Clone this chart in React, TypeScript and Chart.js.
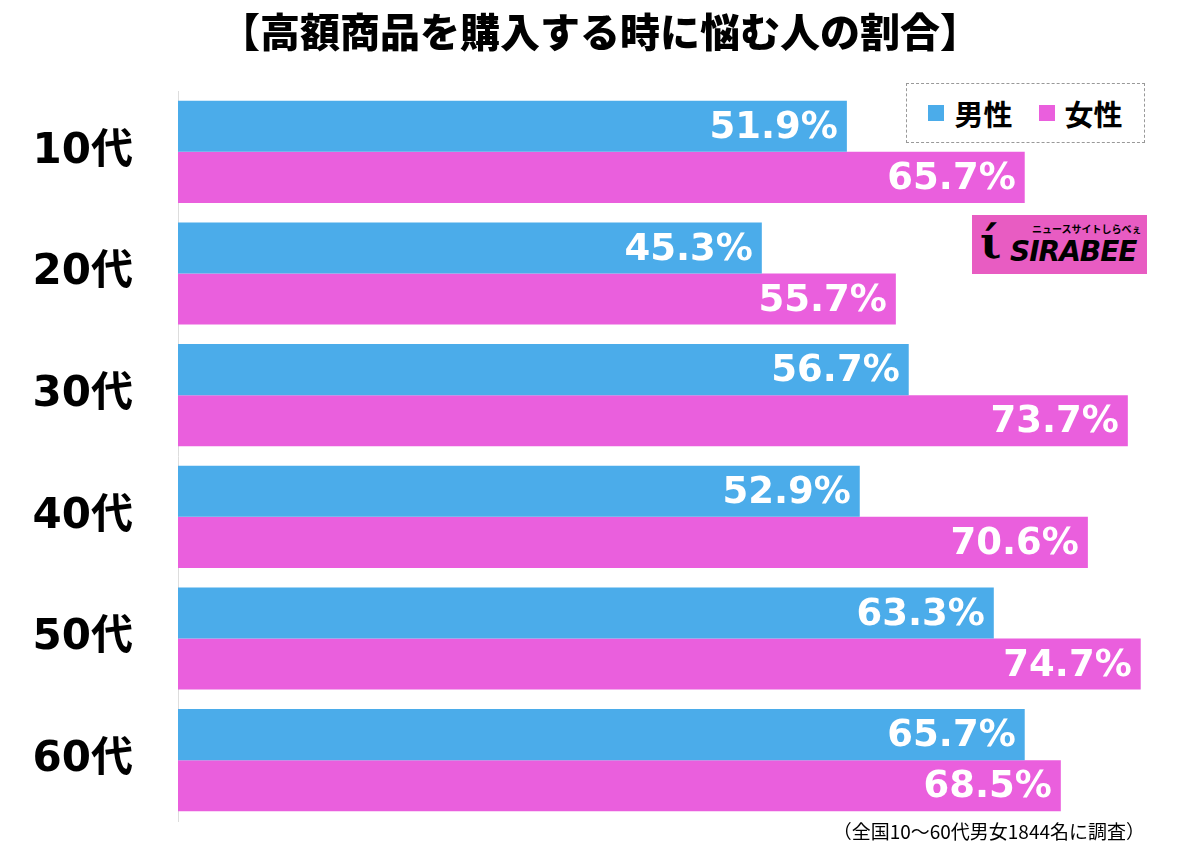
import React, { useEffect, useRef } from "react";
import { Chart, registerables } from "chart.js";

Chart.register(...registerables);

const categories = ["10代", "20代", "30代", "40代", "50代", "60代"];
const maleValues = [51.9, 45.3, 56.7, 52.9, 63.3, 65.7];
const femaleValues = [65.7, 55.7, 73.7, 70.6, 74.7, 68.5];
const seriesNames = ["男性", "女性"];
const titleText = "【高額商品を購入する時に悩む人の割合】";
const footnoteText = "（全国10〜60代男女1844名に調査）";

const BLUE = "#4BACEA";
const PINK = "#EA5FDD";

const valueLabels = {
  id: "valueLabels",
  afterDatasetsDraw(chart: any) {
    const ctx = chart.ctx;
    ctx.save();
    ctx.font = 'bold 37px "DejaVu Sans", sans-serif';
    ctx.fillStyle = "#ffffff";
    ctx.textAlign = "right";
    ctx.textBaseline = "middle";
    chart.data.datasets.forEach((ds: any, i: number) => {
      const meta = chart.getDatasetMeta(i);
      meta.data.forEach((bar: any, j: number) => {
        ctx.fillText(Number(ds.data[j]).toFixed(1) + "%", bar.x - 9, bar.y + 2);
      });
    });
    ctx.restore();
  },
};

export default function App() {
  const ref = useRef<HTMLCanvasElement | null>(null);

  useEffect(() => {
    if (!ref.current) return;
    const chart = new Chart(ref.current, {
      type: "bar",
      data: {
        labels: categories,
        datasets: [
          { label: seriesNames[0], data: maleValues, backgroundColor: BLUE, borderWidth: 0 },
          { label: seriesNames[1], data: femaleValues, backgroundColor: PINK, borderWidth: 0 },
        ],
      },
      options: {
        indexAxis: "y",
        responsive: false,
        animation: false,
        devicePixelRatio: 1,
        layout: { padding: { left: 0, right: 0, top: 0, bottom: 26 } },
        datasets: {
          bar: { categoryPercentage: 0.84, barPercentage: 1.0 },
        },
        scales: {
          x: {
            display: false,
            min: 0,
            max: 79.3,
          },
          y: {
            afterFit: (scale: any) => {
              scale.width = 178;
              scale.paddingTop = 0;
              scale.paddingBottom = 0;
            },
            grid: { display: false, drawTicks: false },
            border: { display: true, color: "#dddddd", width: 1 },
            ticks: {
              padding: 45,
              color: "#000000",
              font: { size: 42, weight: "bold", family: '"DejaVu Sans", "Noto Sans CJK JP", sans-serif' },
            },
          },
        },
        plugins: {
          legend: { display: false },
          tooltip: { enabled: false },
          title: {
            display: true,
            text: titleText,
            color: "#000000",
            font: { size: 40, weight: "900", family: '"Noto Sans CJK JP", sans-serif', lineHeight: 1.2 },
            padding: { top: 8, bottom: 35 },
          },
        },
      } as any,
      plugins: [valueLabels],
    });
    return () => chart.destroy();
  }, []);

  return (
    <div style={{ position: "absolute", left: 0, top: 0, width: 1200, height: 847, background: "#fff", overflow: "hidden" }}>
      <canvas ref={ref} width={1200} height={847} style={{ display: "block", width: 1200, height: 847 }} />
      <div
        style={{
          position: "absolute",
          left: 906,
          top: 83,
          width: 237,
          height: 58,
          border: "1px dashed #999",
          background: "#fff",
          display: "flex",
          alignItems: "center",
          justifyContent: "center",
          gap: 26,
          fontFamily: '"Noto Sans CJK JP", sans-serif',
          fontWeight: 700,
          fontSize: 29,
          color: "#000",
        }}
      >
        <span style={{ display: "flex", alignItems: "center" }}>
          <span style={{ display: "inline-block", width: 16, height: 16, background: BLUE, marginRight: 10 }} />
          {seriesNames[0]}
        </span>
        <span style={{ display: "flex", alignItems: "center" }}>
          <span style={{ display: "inline-block", width: 16, height: 16, background: PINK, marginRight: 10 }} />
          {seriesNames[1]}
        </span>
      </div>
      <div
        style={{
          position: "absolute",
          left: 972,
          top: 215,
          width: 175,
          height: 59,
          background: "#E85CC2",
          fontFamily: '"DejaVu Sans", sans-serif',
          color: "#000",
        }}
      >
        <div style={{ position: "absolute", left: 8, top: 6, fontSize: 44, fontWeight: 900, lineHeight: "44px", fontFamily: '"DejaVu Serif", serif' }}>ί</div>
        <div style={{ position: "absolute", left: 60, top: 6, fontSize: 10, fontWeight: 700, fontFamily: '"Noto Sans CJK JP", sans-serif', whiteSpace: "nowrap" }}>ニュースサイトしらべぇ</div>
        <div style={{ position: "absolute", left: 38, top: 20, fontSize: 28, fontWeight: 900, fontStyle: "italic", letterSpacing: -1, whiteSpace: "nowrap" }}>SIRABEE</div>
      </div>
      <div
        style={{
          position: "absolute",
          right: 1200 - 1145,
          top: 817,
          fontFamily: '"Noto Sans CJK JP", sans-serif',
          fontSize: 19,
          color: "#000",
          whiteSpace: "nowrap",
        }}
      >
        {footnoteText}
      </div>
    </div>
  );
}
